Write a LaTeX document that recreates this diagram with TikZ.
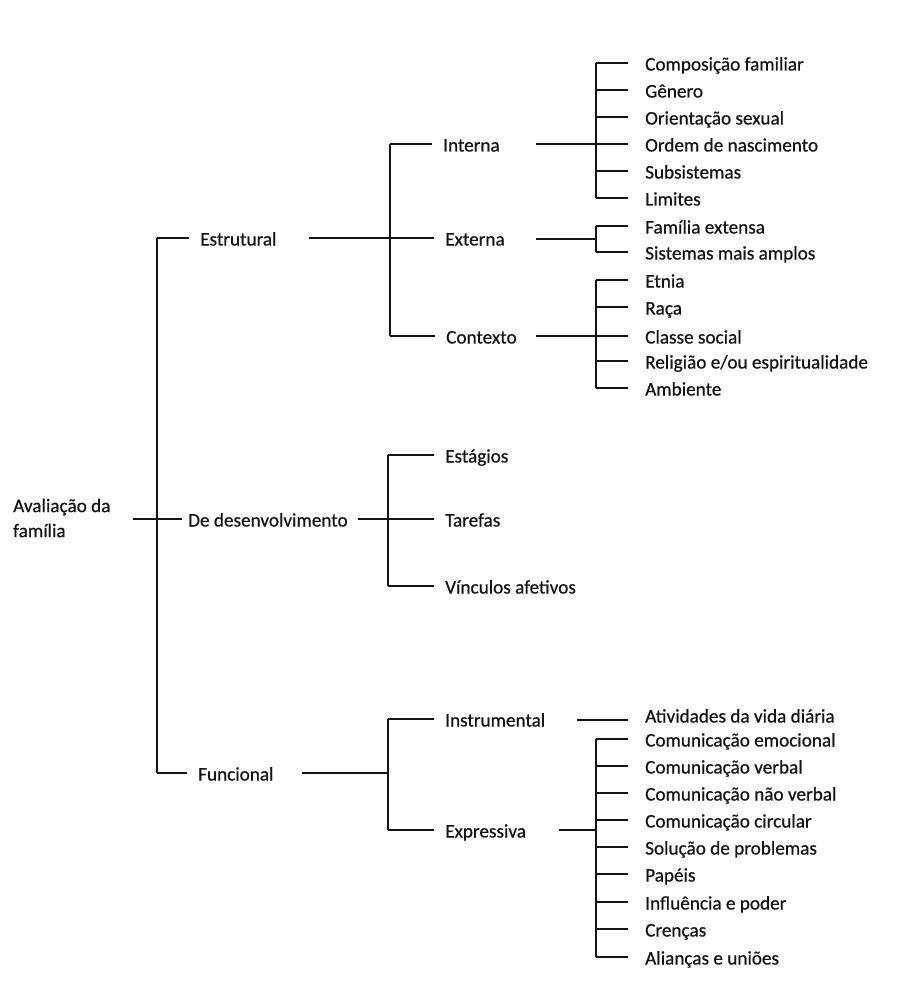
\documentclass[tikz,border=0pt]{standalone}
\usepackage{fontspec}
\setmainfont{Carlito}[FakeBold=0.6]
\definecolor{ink}{HTML}{141414}
\begin{document}
\begin{tikzpicture}[x=1pt,y=-1pt,
  lbl/.style={anchor=west, inner sep=0pt, text height=19pt, text depth=4pt, text=ink,
              font=\fontsize{19.2}{25}\selectfont},
  rootlbl/.style={anchor=west, inner sep=0pt, align=left, text=ink,
              font=\fontsize{19.2}{25}\selectfont},
  conn/.style={draw=ink, line width=1.3pt},
  tick/.style={conn, shorten >=17pt},
  tickb/.style={conn, shorten >=11pt}]
\useasboundingbox[fill=white] (0,0) rectangle (909,992);

% ---------- labels ----------
\node[rootlbl] (root) at (13,518) {Avaliação da\\família};
\node[lbl] (estr) at (200,238) {Estrutural};
\node[lbl] (dev)  at (188,519) {De desenvolvimento};
\node[lbl] (func) at (198,773) {Funcional};

\node[lbl] (int) at (443,144) {Interna};
\node[lbl] (ext) at (445,238) {Externa};
\node[lbl] (ctx) at (446,336) {Contexto};
\node[lbl] (est) at (445,455) {Estágios};
\node[lbl] (tar) at (445,519) {Tarefas};
\node[lbl] (vin) at (445,586) {Vínculos afetivos};
\node[lbl] (ins) at (445,719) {Instrumental};
\node[lbl] (exs) at (445,830) {Expressiva};

\node[lbl] (a1) at (645,63)  {Composição familiar};
\node[lbl] (a2) at (645,90)  {Gênero};
\node[lbl] (a3) at (645,117) {Orientação sexual};
\node[lbl] (a4) at (645,144) {Ordem de nascimento};
\node[lbl] (a5) at (645,171) {Subsistemas};
\node[lbl] (a6) at (645,198) {Limites};
\node[lbl] (b1) at (645,226) {Família extensa};
\node[lbl] (b2) at (645,252) {Sistemas mais amplos};
\node[lbl] (c1) at (645,280) {Etnia};
\node[lbl] (c2) at (645,307) {Raça};
\node[lbl] (c3) at (645,336) {Classe social};
\node[lbl] (c4) at (645,361) {Religião e/ou espiritualidade};
\node[lbl] (c5) at (645,388) {Ambiente};
\node[lbl] (d1) at (645,715) {Atividades da vida diária};
\node[lbl] (e1) at (645,739) {Comunicação emocional};
\node[lbl] (e2) at (645,766) {Comunicação verbal};
\node[lbl] (e3) at (645,793) {Comunicação não verbal};
\node[lbl] (e4) at (645,820) {Comunicação circular};
\node[lbl] (e5) at (645,847) {Solução de problemas};
\node[lbl] (e6) at (645,874) {Papéis};
\node[lbl] (e7) at (645,902) {Influência e poder};
\node[lbl] (e8) at (645,929) {Crenças};
\node[lbl] (e9) at (645,957) {Alianças e uniões};

% ---------- junction coordinates ----------
\coordinate (rootA) at (133,519);
\coordinate (mv)    at (157,519);
\coordinate (estrR) at (309,238);
\coordinate (devR)  at (358,519);
\coordinate (funcR) at (302,773);
\coordinate (brS)   at (390,238);
\coordinate (brD)   at (388,519);
\coordinate (brF)   at (388,773);
\coordinate (intR)  at (536,144);
\coordinate (extR)  at (536,239);
\coordinate (ctxR)  at (536,336);
\coordinate (insR)  at (577,720);
\coordinate (exsR)  at (559,830);
\coordinate (brL)   at (596,500);

% ---------- root and main trunk ----------
\draw[conn, shorten >=6pt] (rootA) -- (dev.west);
\draw[conn] (mv |- estr.west) -- (mv |- func.west);
\draw[tickb] (mv |- estr.west) -- (estr.west);
\draw[tickb] (mv |- func.west) -- (func.west);

% ---------- Estrutural ----------
\draw[conn] (estrR) -- (brS);
\draw[conn] (brS |- int.west) -- (brS |- ctx.west);
\foreach \n in {int,ext,ctx} \draw[tickb] (brS |- \n.west) -- (\n.west);

% ---------- De desenvolvimento ----------
\draw[conn] (devR) -- (brD);
\draw[conn] (brD |- est.west) -- (brD |- vin.west);
\foreach \n in {est,tar,vin} \draw[tickb] (brD |- \n.west) -- (\n.west);

% ---------- Funcional ----------
\draw[conn] (funcR) -- (brF);
\draw[conn] (brF |- ins.west) -- (brF |- exs.west);
\foreach \n in {ins,exs} \draw[tickb] (brF |- \n.west) -- (\n.west);

% ---------- leaf brackets ----------
\draw[conn] (intR) -- (brL |- intR);
\draw[conn] (brL |- a1.west) -- (brL |- a6.west);
\foreach \n in {a1,a2,a3,a4,a5,a6} \draw[tick] (brL |- \n.west) -- (\n.west);

\draw[conn] (extR) -- (brL |- extR);
\draw[conn] (brL |- b1.west) -- (brL |- b2.west);
\foreach \n in {b1,b2} \draw[tick] (brL |- \n.west) -- (\n.west);

\draw[conn] (ctxR) -- (brL |- ctxR);
\draw[conn] (brL |- c1.west) -- (brL |- c5.west);
\foreach \n in {c1,c2,c3,c4,c5} \draw[tick] (brL |- \n.west) -- (\n.west);

\draw[tick] (insR) -- (insR -| d1.west);

\draw[conn] (exsR) -- (brL |- exsR);
\draw[conn] (brL |- e1.west) -- (brL |- e9.west);
\foreach \n in {e1,e2,e3,e4,e5,e6,e7,e8,e9} \draw[tick] (brL |- \n.west) -- (\n.west);
\end{tikzpicture}
\end{document}
